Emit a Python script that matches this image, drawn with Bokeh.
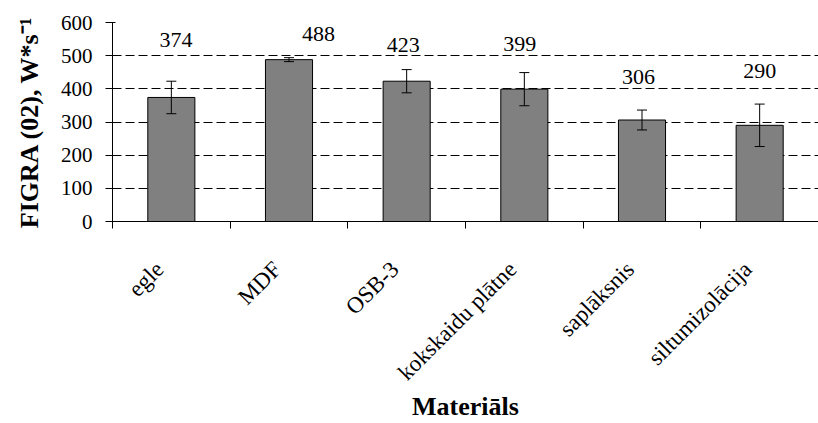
import numpy as np
from math import pi
from bokeh.plotting import figure
from bokeh.models import ColumnDataSource, Range1d, FixedTicker, Whisker, LabelSet, TeeHead
from bokeh.embed import file_html
from bokeh.resources import INLINE

categories = ["egle", "MDF", "OSB-3", "kokskaidu plātne", "saplāksnis", "siltumizolācija"]
values = [374, 488, 423, 399, 306, 290]
errors = [49, 6, 35, 50, 30, 64]
value_labels = ["374", "488", "423", "399", "306", "290"]
label_y = [546, 566, 531, 536, 437, 454]
label_dx = [0.04, 0.25, -0.03, -0.04, -0.03, 0.0]
y_ticks = [0, 100, 200, 300, 400, 500, 600]
x_title = "Materiāls"
y_title = "FIGRA (02), W*s⁻¹"

FONT = "Liberation Serif"

n = len(categories)
xc = np.arange(n) + 0.5
src = ColumnDataSource(dict(
    x=xc,
    top=values,
    upper=np.array(values) + np.array(errors),
    lower=np.array(values) - np.array(errors),
    lx=xc + np.array(label_dx),
    ly=label_y,
    txt=value_labels,
))

p = figure(width=818, height=423, output_backend="svg", toolbar_location=None,
           x_range=Range1d(0, n), y_range=Range1d(0, 600),
           min_border_left=112, min_border_right=0, min_border_top=22, min_border_bottom=200)
p.outline_line_color = None
p.background_fill_color = "white"

p.vbar(x="x", top="top", width=0.4, bottom=0, source=src,
       fill_color="#808080", line_color="black", line_width=1)

w = Whisker(base="x", upper="upper", lower="lower", source=src,
            line_color="black", line_width=1,
            upper_head=TeeHead(size=10, line_color="black", line_width=1),
            lower_head=TeeHead(size=10, line_color="black", line_width=1))
w.level = "overlay"
p.add_layout(w)

labels = LabelSet(x="lx", y="ly", text="txt", source=src, text_align="center",
                  text_baseline="middle", text_font=FONT, text_font_size="22px",
                  text_color="black")
p.add_layout(labels)

# grid
p.xgrid.grid_line_color = None
p.ygrid.ticker = FixedTicker(ticks=y_ticks)
p.ygrid.grid_line_color = "black"
p.ygrid.grid_line_dash = "9 4"
p.ygrid.grid_line_width = 1

# y axis
p.yaxis.ticker = FixedTicker(ticks=y_ticks)
p.yaxis.major_tick_in = 3
p.yaxis.major_tick_out = 7
p.yaxis.minor_tick_line_color = None
p.yaxis.major_label_standoff = 13
p.yaxis.major_label_text_font = FONT
p.yaxis.major_label_text_font_size = "21px"
p.yaxis.major_label_text_color = "black"
p.yaxis.axis_line_color = "black"
p.yaxis.axis_label = y_title
p.yaxis.axis_label_text_font = FONT
p.yaxis.axis_label_text_font_size = "26px"
p.yaxis.axis_label_text_font_style = "bold"
p.yaxis.axis_label_text_color = "black"
p.yaxis.axis_label_standoff = 14

# x axis: category names on invisible major ticks, boundary marks as minor ticks
label_shift = 0.1
tick_pos = [float(x - label_shift) for x in xc]
p.xaxis.ticker = FixedTicker(ticks=tick_pos, minor_ticks=list(range(n + 1)))
p.xaxis.major_label_overrides = {t: c for t, c in zip(tick_pos, categories)}
p.xaxis.major_tick_line_color = None
p.xaxis.major_tick_in = 0
p.xaxis.major_tick_out = 0
p.xaxis.minor_tick_in = 0
p.xaxis.minor_tick_out = 7
p.xaxis.minor_tick_line_color = "black"
p.xaxis.major_label_orientation = pi / 4
p.xaxis.major_label_standoff = 37
p.xaxis.major_label_text_font = FONT
p.xaxis.major_label_text_font_size = "23px"
p.xaxis.major_label_text_color = "black"
p.xaxis.axis_line_color = "black"
p.xaxis.axis_label = x_title
p.xaxis.axis_label_text_font = FONT
p.xaxis.axis_label_text_font_size = "26px"
p.xaxis.axis_label_text_font_style = "bold"
p.xaxis.axis_label_text_color = "black"
p.xaxis.axis_label_standoff = -5

open("out.html", "w").write(file_html(p, INLINE))
